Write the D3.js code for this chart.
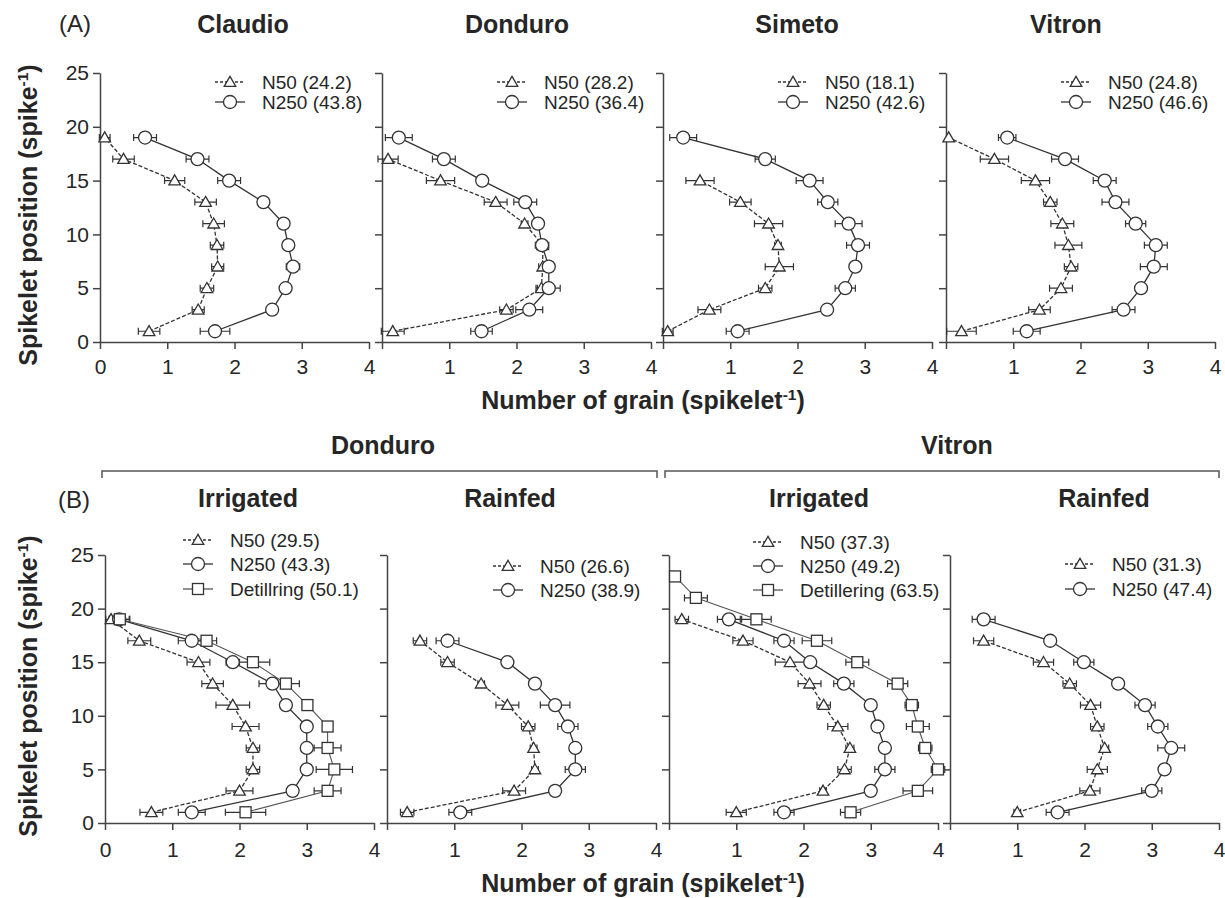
<!DOCTYPE html>
<html>
<head>
<meta charset="utf-8">
<script src="https://cdn.jsdelivr.net/npm/d3@7"></script>
<style>
  body { margin: 0; background: #fff; }
  text { font-family: "Liberation Sans", Arial, sans-serif; fill: #262626; }
</style>
</head>
<body>
<svg id="chart" width="1225" height="898"></svg>
<script>
// spikelet positions (y values)
var pos8 = [1, 3, 5, 7, 9, 11, 13, 15];
var pos9 = [1, 3, 5, 7, 9, 11, 13, 15, 17];
var pos10 = [1, 3, 5, 7, 9, 11, 13, 15, 17, 19];
var pos12 = [1, 3, 5, 7, 9, 11, 13, 15, 17, 19, 21, 23];

var xTicks = [0, 1, 2, 3, 4];
var yTicks = [0, 5, 10, 15, 20, 25];

// (A) cultivars
var claudioN50 = [0.73, 1.46, 1.59, 1.75, 1.74, 1.69, 1.57, 1.11, 0.35, 0.07];
var claudioN50Se = [0.16, 0.09, 0.1, 0.09, 0.1, 0.16, 0.16, 0.15, 0.16, 0.08];
var claudioN250 = [1.71, 2.56, 2.76, 2.87, 2.8, 2.73, 2.43, 1.92, 1.45, 0.67];
var claudioN250Se = [0.22, 0.05, 0.05, 0.1, 0.07, 0.07, 0.05, 0.17, 0.17, 0.17];

var donduroN50 = [0.16, 1.85, 2.37, 2.39, 2.39, 2.12, 1.69, 0.87, 0.09];
var donduroN50Se = [0.17, 0.1, 0.08, 0.06, 0.06, 0.05, 0.17, 0.21, 0.15];
var donduroN250 = [1.48, 2.19, 2.48, 2.48, 2.38, 2.32, 2.13, 1.49, 0.92, 0.25];
var donduroN250Se = [0.16, 0.2, 0.17, 0.08, 0.1, 0.05, 0.17, 0.05, 0.17, 0.2];

var simetoN50 = [0.07, 0.69, 1.52, 1.73, 1.71, 1.57, 1.15, 0.55];
var simetoN50Se = [0.08, 0.17, 0.1, 0.21, 0.05, 0.21, 0.16, 0.21];
var simetoN250 = [1.11, 2.44, 2.71, 2.86, 2.9, 2.76, 2.45, 2.18, 1.52, 0.3];
var simetoN250Se = [0.17, 0.05, 0.15, 0.05, 0.17, 0.2, 0.15, 0.2, 0.15, 0.2];

var vitronN50 = [0.23, 1.39, 1.71, 1.86, 1.82, 1.73, 1.55, 1.33, 0.72, 0.04];
var vitronN50Se = [0.22, 0.16, 0.17, 0.1, 0.2, 0.17, 0.1, 0.21, 0.21, 0];
var vitronN250 = [1.2, 2.64, 2.9, 3.09, 3.12, 2.82, 2.52, 2.36, 1.77, 0.91];
var vitronN250Se = [0.2, 0.17, 0.05, 0.2, 0.17, 0.15, 0.2, 0.17, 0.2, 0.13];

// (B) water regimes
var donIrrN50 = [0.69, 2.0, 2.2, 2.2, 2.09, 1.9, 1.6, 1.39, 0.51, 0.09];
var donIrrN50Se = [0.17, 0.2, 0.1, 0.1, 0.2, 0.25, 0.16, 0.17, 0.17, 0.08];
var donIrrN250 = [1.29, 2.79, 3.0, 3.0, 3.0, 2.69, 2.49, 1.9, 1.29, 0.21];
var donIrrN250Se = [0.2, 0.05, 0.05, 0.05, 0.05, 0.05, 0.2, 0.1, 0.2, 0.15];
var donIrrDet = [2.09, 3.31, 3.41, 3.31, 3.31, 3.01, 2.69, 2.2, 1.51, 0.22];
var donIrrDetSe = [0.3, 0.2, 0.27, 0.2, 0.05, 0.05, 0.2, 0.25, 0.15, 0.15];

var donRfN50 = [0.3, 1.89, 2.2, 2.18, 2.1, 1.79, 1.4, 0.9, 0.49];
var donRfN50Se = [0.1, 0.17, 0.05, 0.05, 0.1, 0.17, 0.05, 0.1, 0.1];
var donRfN250 = [1.09, 2.5, 2.8, 2.8, 2.69, 2.5, 2.2, 1.79, 0.9];
var donRfN250Se = [0.17, 0.05, 0.15, 0.05, 0.15, 0.22, 0.05, 0.05, 0.17];

var vitIrrN50 = [1.0, 2.29, 2.61, 2.69, 2.51, 2.3, 2.09, 1.8, 1.1, 0.19];
var vitIrrN50Se = [0.15, 0.05, 0.1, 0.06, 0.15, 0.1, 0.17, 0.22, 0.15, 0.1];
var vitIrrN250 = [1.71, 3.0, 3.21, 3.21, 3.1, 3.0, 2.6, 2.1, 1.71, 0.89];
var vitIrrN250Se = [0.15, 0.05, 0.15, 0.06, 0.05, 0.05, 0.15, 0.05, 0.15, 0.17];
var vitIrrDet = [2.7, 3.7, 4.0, 3.81, 3.7, 3.61, 3.4, 2.8, 2.2, 1.3, 0.4, 0.09];
var vitIrrDetSe = [0.15, 0.22, 0.1, 0.1, 0.17, 0.1, 0.15, 0.17, 0.22, 0.22, 0.17, 0];

var vitRfN50 = [1.0, 2.08, 2.19, 2.3, 2.19, 2.09, 1.78, 1.39, 0.5];
var vitRfN50Se = [0.05, 0.15, 0.15, 0.06, 0.1, 0.15, 0.1, 0.15, 0.15];
var vitRfN250 = [1.6, 3.0, 3.19, 3.29, 3.09, 2.9, 2.5, 1.99, 1.49, 0.5];
var vitRfN250Se = [0.17, 0.15, 0.05, 0.2, 0.15, 0.15, 0.05, 0.15, 0.05, 0.17];

var svg = d3.select("#chart");
var axisColor = "#444";
var lineColor = "#333";

var rowA = { top: 73, bottom: 342, w: 269, xPad: 10 };
var rowB = { top: 555, bottom: 823, w: 269, xPad: 12 };

function s(label, type, pos, val, err) {
  return { label: label, type: type, pos: pos, val: val, err: err };
}

var panels = [
  { row: rowA, x0: 100, first: true, title: "Claudio", tx: 243, ty: 24, legDx: 115, legY: [82, 102],
    series: [s("N50 (24.2)", "tri", pos10, claudioN50, claudioN50Se), s("N250 (43.8)", "circ", pos10, claudioN250, claudioN250Se)] },
  { row: rowA, x0: 382, title: "Donduro", tx: 517, ty: 24, legDx: 115, legY: [82, 102],
    series: [s("N50 (28.2)", "tri", pos9, donduroN50, donduroN50Se), s("N250 (36.4)", "circ", pos10, donduroN250, donduroN250Se)] },
  { row: rowA, x0: 663, title: "Simeto", tx: 797, ty: 24, legDx: 115, legY: [82, 102],
    series: [s("N50 (18.1)", "tri", pos8, simetoN50, simetoN50Se), s("N250 (42.6)", "circ", pos10, simetoN250, simetoN250Se)] },
  { row: rowA, x0: 946, title: "Vitron", tx: 1066, ty: 24, legDx: 115, legY: [82, 102],
    series: [s("N50 (24.8)", "tri", pos10, vitronN50, vitronN50Se), s("N250 (46.6)", "circ", pos10, vitronN250, vitronN250Se)] },
  { row: rowB, x0: 105, first: true, title: "Irrigated", tx: 248, ty: 498, legDx: 78, legY: [540, 564, 589],
    series: [s("N50 (29.5)", "tri", pos10, donIrrN50, donIrrN50Se), s("N250 (43.3)", "circ", pos10, donIrrN250, donIrrN250Se),
             s("Detillring (50.1)", "sq", pos10, donIrrDet, donIrrDetSe)] },
  { row: rowB, x0: 387, title: "Rainfed", tx: 510, ty: 498, legDx: 106, legY: [566, 590],
    series: [s("N50 (26.6)", "tri", pos9, donRfN50, donRfN50Se), s("N250 (38.9)", "circ", pos9, donRfN250, donRfN250Se)] },
  { row: rowB, x0: 669, title: "Irrigated", tx: 819, ty: 498, legDx: 84, legY: [542, 566, 590],
    series: [s("N50 (37.3)", "tri", pos10, vitIrrN50, vitIrrN50Se), s("N250 (49.2)", "circ", pos10, vitIrrN250, vitIrrN250Se),
             s("Detillering (63.5)", "sq", pos12, vitIrrDet, vitIrrDetSe)] },
  { row: rowB, x0: 950, title: "Rainfed", tx: 1104, ty: 498, legDx: 115, legY: [564, 589],
    series: [s("N50 (31.3)", "tri", pos9, vitRfN50, vitRfN50Se), s("N250 (47.4)", "circ", pos10, vitRfN250, vitRfN250Se)] }
];

function drawMarker(g, type, cx, cy) {
  if (type === "tri") {
    g.append("path")
      .attr("d", d3.symbol(d3.symbolTriangle, 58)())
      .attr("transform", `translate(${cx},${cy + 1})`)
      .attr("fill", "#fff").attr("stroke", lineColor).attr("stroke-width", 1.3);
  } else if (type === "circ") {
    g.append("circle").attr("cx", cx).attr("cy", cy).attr("r", 6.5)
      .attr("fill", "#fff").attr("stroke", lineColor).attr("stroke-width", 1.3);
  } else {
    g.append("rect").attr("x", cx - 5.5).attr("y", cy - 5.5).attr("width", 11).attr("height", 11)
      .attr("fill", "#fff").attr("stroke", lineColor).attr("stroke-width", 1.3);
  }
}

panels.forEach((p) => {
  var row = p.row;
  var x = d3.scaleLinear().domain([0, 4]).range([p.x0, p.x0 + row.w]);
  var y = d3.scaleLinear().domain([0, 25]).range([row.bottom, row.top]);
  var g = svg.append("g");

  var xa = g.append("g")
    .attr("transform", `translate(0,${row.bottom})`)
    .call(d3.axisBottom(x).tickValues(xTicks).tickSize(7).tickSizeOuter(0).tickPadding(row.xPad)
      .tickFormat((d) => (d === 0 && !p.first ? "" : d)));
  var ya = g.append("g")
    .attr("transform", `translate(${p.x0},0)`)
    .call(d3.axisLeft(y).tickValues(yTicks).tickSize(7).tickSizeOuter(0).tickPadding(4)
      .tickFormat((d) => (p.first ? d : "")));
  [xa, ya].forEach((a) => {
    a.selectAll("path, line").attr("stroke", axisColor).attr("stroke-width", 1.5);
    a.selectAll("text").attr("font-size", 21).attr("fill", "#333")
      .style("font-family", '"Liberation Sans", Arial, sans-serif');
  });

  // error bars
  p.series.forEach((sr) => {
    sr.pos.forEach((py, i) => {
      var e = sr.err[i];
      if (!e) return;
      var yy = y(py), xl = x(sr.val[i] - e), xr = x(sr.val[i] + e);
      g.append("path")
        .attr("d", `M${xl},${yy}H${xr}M${xl},${yy - 3.5}V${yy + 3.5}M${xr},${yy - 3.5}V${yy + 3.5}`)
        .attr("stroke", lineColor).attr("stroke-width", 1.2).attr("fill", "none");
    });
  });

  // lines
  var line = d3.line().x((d) => x(d[0])).y((d) => y(d[1]));
  p.series.forEach((sr) => {
    g.append("path")
      .datum(sr.pos.map((py, i) => [sr.val[i], py]))
      .attr("d", line)
      .attr("fill", "none")
      .attr("stroke", sr.type === "sq" ? "#555" : lineColor)
      .attr("stroke-width", sr.type === "sq" ? 1.1 : 1.3)
      .attr("stroke-dasharray", sr.type === "tri" ? "4,2" : null);
  });

  // markers
  p.series.forEach((sr) => {
    sr.pos.forEach((py, i) => drawMarker(g, sr.type, x(sr.val[i]), y(py)));
  });

  // legend
  p.series.forEach((sr, i) => {
    var ly = p.legY[i];
    var lx = p.x0 + p.legDx;
    g.append("line").attr("x1", lx).attr("x2", lx + 30).attr("y1", ly).attr("y2", ly)
      .attr("stroke", sr.type === "sq" ? "#555" : lineColor).attr("stroke-width", 1.3)
      .attr("stroke-dasharray", sr.type === "tri" ? "3,2" : null);
    drawMarker(g, sr.type, lx + 15, ly);
    g.append("text").attr("x", lx + 47).attr("y", ly).attr("dy", "0.35em")
      .attr("font-size", 19).text(sr.label);
  });

  // title
  g.append("text").attr("x", p.tx).attr("y", p.ty).attr("dy", "0.35em")
    .attr("text-anchor", "middle").attr("font-size", 25).attr("font-weight", "bold").text(p.title);
});

// panel letters
svg.append("text").attr("x", 75).attr("y", 24).attr("dy", "0.35em").attr("text-anchor", "middle")
  .attr("font-size", 24).text("(A)");
svg.append("text").attr("x", 74).attr("y", 500).attr("dy", "0.35em").attr("text-anchor", "middle")
  .attr("font-size", 24).text("(B)");

// cultivar brackets for (B)
[[102, 657, "Donduro", 383], [665, 1219, "Vitron", 957]].forEach((b) => {
  svg.append("path").attr("d", `M${b[0]},478V471H${b[1]}V478`)
    .attr("fill", "none").attr("stroke", "#555").attr("stroke-width", 1.5);
  svg.append("text").attr("x", b[3]).attr("y", 445).attr("dy", "0.35em").attr("text-anchor", "middle")
    .attr("font-size", 25).attr("font-weight", "bold").text(b[2]);
});

// axis titles
function supLabel(sel, before, sup, after) {
  sel.append("tspan").text(before);
  sel.append("tspan").attr("dy", "-0.55em").attr("font-size", "0.62em").text(sup);
  sel.append("tspan").attr("dy", "0.34em").text(after);
}

[215, 686].forEach((cy) => {
  var t = svg.append("text")
    .attr("transform", `translate(37,${cy}) rotate(-90)`)
    .attr("text-anchor", "middle").attr("font-size", 25).attr("font-weight", "bold");
  supLabel(t, "Spikelet position (spike", "-1", ")");
});

[409, 892].forEach((by) => {
  var t = svg.append("text").attr("x", 643).attr("y", by)
    .attr("text-anchor", "middle").attr("font-size", 25).attr("font-weight", "bold");
  supLabel(t, "Number of grain (spikelet", "-1", ")");
});
</script>
</body>
</html>
